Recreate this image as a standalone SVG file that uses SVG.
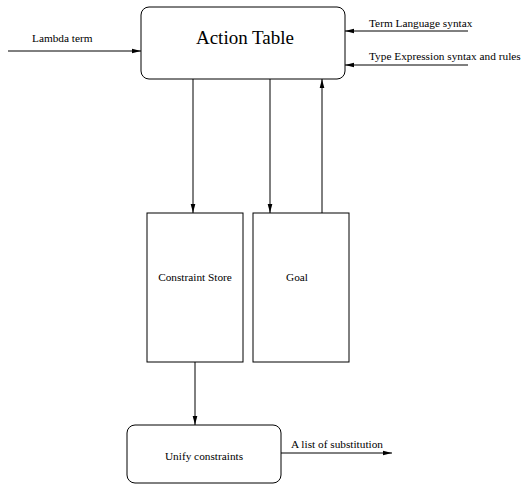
<svg xmlns="http://www.w3.org/2000/svg" width="528" height="489" viewBox="0 0 528 489">
<style>
.box{fill:#fff;stroke:#000;stroke-width:1}
.ln{fill:none;stroke:#000;stroke-width:1}
text{font-family:"Liberation Serif","Times New Roman",serif;fill:#000}
.s{font-size:11.3px}
</style>
<defs>
<marker id="ah" markerWidth="9" markerHeight="6" refX="9" refY="3" orient="auto" markerUnits="userSpaceOnUse">
<path d="M0,0.7 L9,3 L0,5.3 Z" fill="#000"/>
</marker>
</defs>
<rect width="528" height="489" fill="#fff"/>
<g id="action-table">
<rect class="box" x="141" y="7" width="204" height="72" rx="8"/>
<text x="245" y="44" font-size="19" text-anchor="middle">Action Table</text>
</g>
<g id="constraint-store">
<rect class="box" x="147" y="213" width="96" height="149"/>
<text class="s" x="195" y="281" text-anchor="middle">Constraint Store</text>
</g>
<g id="goal">
<rect class="box" x="253" y="213" width="96" height="149"/>
<text class="s" x="297" y="281" text-anchor="middle">Goal</text>
</g>
<g id="unify">
<rect class="box" x="127" y="425" width="154" height="58" rx="8"/>
<text class="s" x="204" y="460" text-anchor="middle">Unify constraints</text>
</g>
<g id="connectors">
<line class="ln" x1="8" y1="51" x2="141" y2="51" marker-end="url(#ah)"/>
<text class="s" x="32" y="42">Lambda term</text>
<line class="ln" x1="468" y1="31" x2="345" y2="31" marker-end="url(#ah)"/>
<text class="s" x="369" y="27">Term Language syntax</text>
<line class="ln" x1="468" y1="65" x2="345" y2="65" marker-end="url(#ah)"/>
<text class="s" x="369" y="60">Type Expression syntax and rules</text>
<line class="ln" x1="193" y1="79" x2="193" y2="213" marker-end="url(#ah)"/>
<line class="ln" x1="270" y1="79" x2="270" y2="213" marker-end="url(#ah)"/>
<line class="ln" x1="322" y1="213" x2="322" y2="79" marker-end="url(#ah)"/>
<line class="ln" x1="195" y1="362" x2="195" y2="425" marker-end="url(#ah)"/>
<line class="ln" x1="281" y1="453" x2="392" y2="453" marker-end="url(#ah)"/>
<text class="s" x="291" y="448">A list of substitution</text>
</g>
</svg>
